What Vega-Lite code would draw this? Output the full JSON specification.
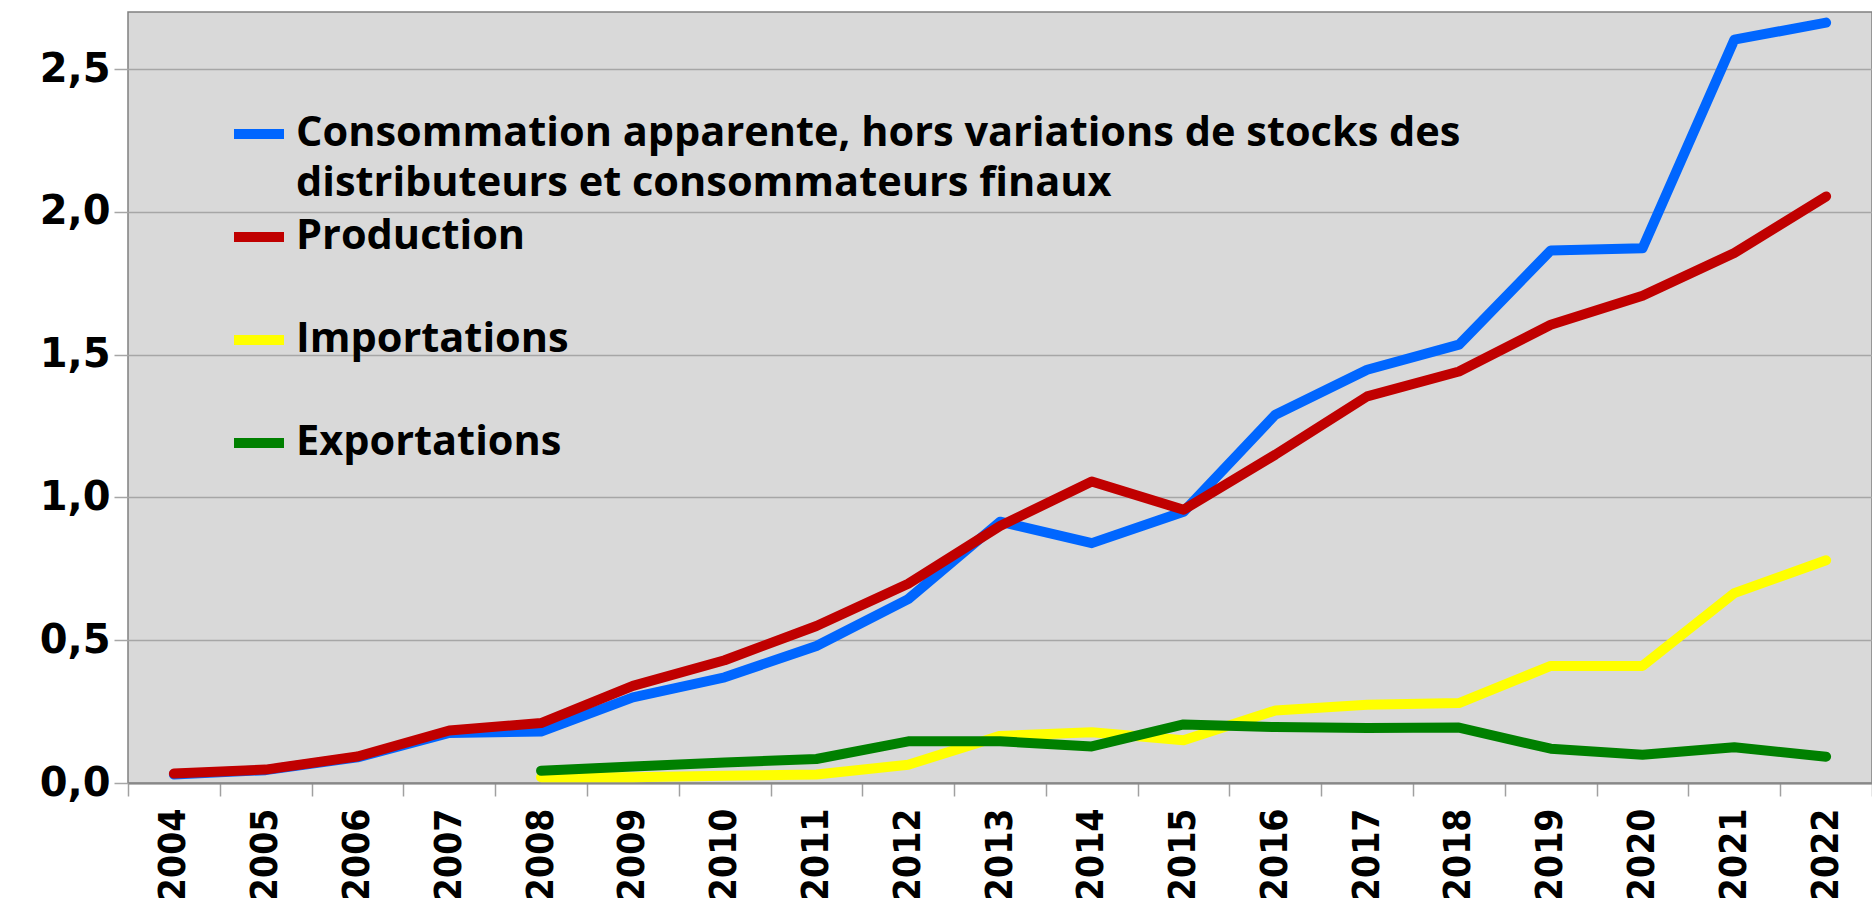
{
  "$schema": "https://vega.github.io/schema/vega-lite/v6.json",
  "width": 1744,
  "height": 771,
  "autosize": {"type": "none"},
  "padding": {"left": 128, "top": 12, "right": 0, "bottom": 115},
  "background": "white",
  "config": {
    "view": {"fill": "#d9d9d9", "stroke": "#808080", "strokeWidth": 1.5},
    "style": {"guide-label": {"lineHeight": 50}}
  },
  "data": {
    "values": [
      {"annee": "2004", "serie": "C", "valeur": 0.03},
      {"annee": "2005", "serie": "C", "valeur": 0.045},
      {"annee": "2006", "serie": "C", "valeur": 0.09},
      {"annee": "2007", "serie": "C", "valeur": 0.175},
      {"annee": "2008", "serie": "C", "valeur": 0.18},
      {"annee": "2009", "serie": "C", "valeur": 0.30},
      {"annee": "2010", "serie": "C", "valeur": 0.37},
      {"annee": "2011", "serie": "C", "valeur": 0.48},
      {"annee": "2012", "serie": "C", "valeur": 0.644},
      {"annee": "2013", "serie": "C", "valeur": 0.915},
      {"annee": "2014", "serie": "C", "valeur": 0.84},
      {"annee": "2015", "serie": "C", "valeur": 0.95},
      {"annee": "2016", "serie": "C", "valeur": 1.29},
      {"annee": "2017", "serie": "C", "valeur": 1.447},
      {"annee": "2018", "serie": "C", "valeur": 1.535},
      {"annee": "2019", "serie": "C", "valeur": 1.865},
      {"annee": "2020", "serie": "C", "valeur": 1.873},
      {"annee": "2021", "serie": "C", "valeur": 2.603},
      {"annee": "2022", "serie": "C", "valeur": 2.663},
      {"annee": "2004", "serie": "P", "valeur": 0.033},
      {"annee": "2005", "serie": "P", "valeur": 0.047},
      {"annee": "2006", "serie": "P", "valeur": 0.093},
      {"annee": "2007", "serie": "P", "valeur": 0.184},
      {"annee": "2008", "serie": "P", "valeur": 0.21},
      {"annee": "2009", "serie": "P", "valeur": 0.34},
      {"annee": "2010", "serie": "P", "valeur": 0.43},
      {"annee": "2011", "serie": "P", "valeur": 0.55},
      {"annee": "2012", "serie": "P", "valeur": 0.698},
      {"annee": "2013", "serie": "P", "valeur": 0.90},
      {"annee": "2014", "serie": "P", "valeur": 1.056},
      {"annee": "2015", "serie": "P", "valeur": 0.957},
      {"annee": "2016", "serie": "P", "valeur": 1.15},
      {"annee": "2017", "serie": "P", "valeur": 1.354},
      {"annee": "2018", "serie": "P", "valeur": 1.441},
      {"annee": "2019", "serie": "P", "valeur": 1.605},
      {"annee": "2020", "serie": "P", "valeur": 1.706},
      {"annee": "2021", "serie": "P", "valeur": 1.856},
      {"annee": "2022", "serie": "P", "valeur": 2.054},
      {"annee": "2008", "serie": "I", "valeur": 0.02},
      {"annee": "2009", "serie": "I", "valeur": 0.02},
      {"annee": "2010", "serie": "I", "valeur": 0.025},
      {"annee": "2011", "serie": "I", "valeur": 0.03},
      {"annee": "2012", "serie": "I", "valeur": 0.064},
      {"annee": "2013", "serie": "I", "valeur": 0.165},
      {"annee": "2014", "serie": "I", "valeur": 0.178},
      {"annee": "2015", "serie": "I", "valeur": 0.15},
      {"annee": "2016", "serie": "I", "valeur": 0.254},
      {"annee": "2017", "serie": "I", "valeur": 0.274},
      {"annee": "2018", "serie": "I", "valeur": 0.28},
      {"annee": "2019", "serie": "I", "valeur": 0.41},
      {"annee": "2020", "serie": "I", "valeur": 0.41},
      {"annee": "2021", "serie": "I", "valeur": 0.665},
      {"annee": "2022", "serie": "I", "valeur": 0.78},
      {"annee": "2008", "serie": "E", "valeur": 0.043},
      {"annee": "2009", "serie": "E", "valeur": 0.058},
      {"annee": "2010", "serie": "E", "valeur": 0.072},
      {"annee": "2011", "serie": "E", "valeur": 0.084},
      {"annee": "2012", "serie": "E", "valeur": 0.146},
      {"annee": "2013", "serie": "E", "valeur": 0.146},
      {"annee": "2014", "serie": "E", "valeur": 0.128},
      {"annee": "2015", "serie": "E", "valeur": 0.205},
      {"annee": "2016", "serie": "E", "valeur": 0.196},
      {"annee": "2017", "serie": "E", "valeur": 0.193},
      {"annee": "2018", "serie": "E", "valeur": 0.194},
      {"annee": "2019", "serie": "E", "valeur": 0.12},
      {"annee": "2020", "serie": "E", "valeur": 0.099},
      {"annee": "2021", "serie": "E", "valeur": 0.125},
      {"annee": "2022", "serie": "E", "valeur": 0.092}
    ]
  },
  "mark": {"type": "line", "strokeWidth": 10, "strokeCap": "round", "strokeJoin": "round"},
  "encoding": {
    "x": {
      "field": "annee",
      "type": "ordinal",
      "bandPosition": 0.5,
      "scale": {"type": "band", "paddingInner": 0, "paddingOuter": 0},
      "axis": {
        "title": null,
        "labelAngle": -90,
        "tickBand": "extent",
        "grid": false,
        "labelFont": "DejaVu Sans Condensed, DejaVu Sans",
        "labelFontWeight": "bold",
        "labelFontSize": 37,
        "labelColor": "black",
        "tickColor": "#a0a0a0",
        "tickSize": 13,
        "tickWidth": 1.5,
        "domainColor": "#888888",
        "domainWidth": 2,
        "labelPadding": 12
      }
    },
    "y": {
      "field": "valeur",
      "type": "quantitative",
      "scale": {"domain": [0, 2.7], "nice": false},
      "axis": {
        "title": null,
        "values": [0, 0.5, 1, 1.5, 2, 2.5],
        "labelExpr": "replace(format(datum.value, '.1f'), '.', ',')",
        "labelFont": "DejaVu Sans",
        "labelFontWeight": "bold",
        "labelFontSize": 40,
        "labelColor": "black",
        "grid": true,
        "gridColor": "#a6a6a6",
        "gridWidth": 1.5,
        "tickColor": "#a6a6a6",
        "tickSize": 14,
        "tickWidth": 1.5,
        "domain": false,
        "labelPadding": 4
      }
    },
    "color": {
      "field": "serie",
      "type": "nominal",
      "scale": {"domain": ["C", "P", "I", "E"], "range": ["#0066ff", "#c00000", "#ffff00", "#008000"]},
      "legend": {
        "orient": "none",
        "legendX": 101,
        "legendY": 92,
        "title": null,
        "padding": 0,
        "symbolType": "stroke",
        "symbolStrokeWidth": 10,
        "symbolSize": 2500,
        "labelFont": "Open Sans",
        "labelFontWeight": "bold",
        "labelFontSize": 41.5,
        "labelColor": "black",
        "labelLimit": 3000,
        "labelOffset": 7,
        "rowPadding": 2,
        "gridAlign": "all",
        "labelExpr": "datum.value == 'C' ? ['Consommation apparente, hors variations de stocks des', 'distributeurs et consommateurs finaux'] : datum.value == 'P' ? 'Production' : datum.value == 'I' ? 'Importations' : 'Exportations'"
      }
    }
  }
}
